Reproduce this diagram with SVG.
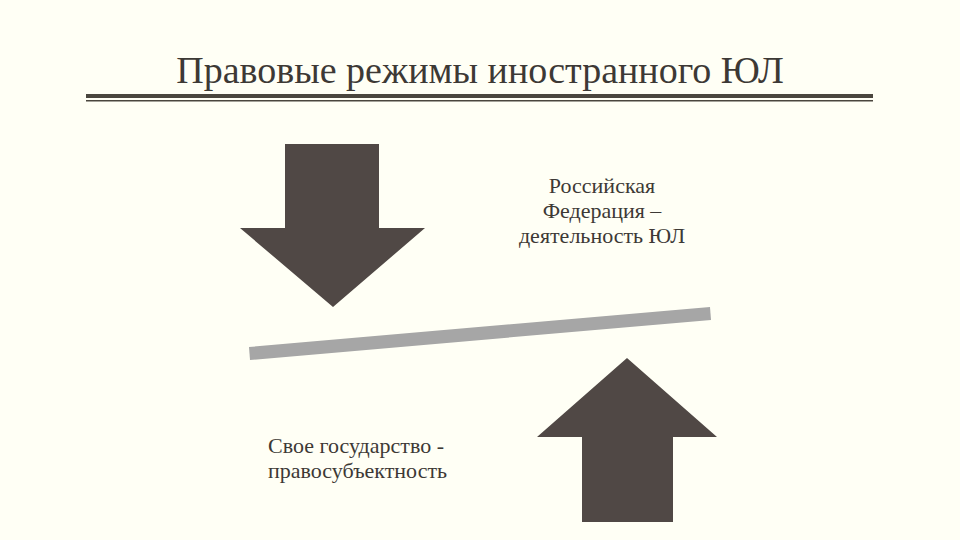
<svg xmlns="http://www.w3.org/2000/svg" width="960" height="540" viewBox="0 0 960 540">
<rect width="960" height="540" fill="#fffff5"/>
<g id="title">
<text x="480" y="83" font-size="38" text-anchor="middle" font-family="Liberation Serif" fill="#3d3935">Правовые режимы иностранного ЮЛ</text>
<rect x="86" y="94" width="787" height="4" fill="#4a463e"/>
<rect x="86" y="100" width="787" height="1.5" fill="#4a463e"/>
</g>
<g id="arrow-down" fill="#504845">
<polygon points="285,144 379,144 379,228 425,228 333,307 240,228 285,228"/>
</g>
<g id="arrow-up" fill="#504845">
<polygon points="627,358 717,437 673,437 673,522 582,522 582,437 537,437"/>
</g>
<g id="bar">
<polygon points="249,347 710,307 711,320 250,360" fill="#a6a6a6"/>
</g>
<g id="label-rf">
<text font-size="22" text-anchor="middle" font-family="Liberation Serif" fill="#3d3935"><tspan x="602" y="193">Российская</tspan><tspan x="602" y="218">Федерация –</tspan><tspan x="602" y="243">деятельность ЮЛ</tspan></text>
</g>
<g id="label-own">
<text font-size="22" font-family="Liberation Serif" fill="#3d3935"><tspan x="268" y="453">Свое государство -</tspan><tspan x="268" y="478">правосубъектность</tspan></text>
</g>
<g id="connectors"/>
</svg>
